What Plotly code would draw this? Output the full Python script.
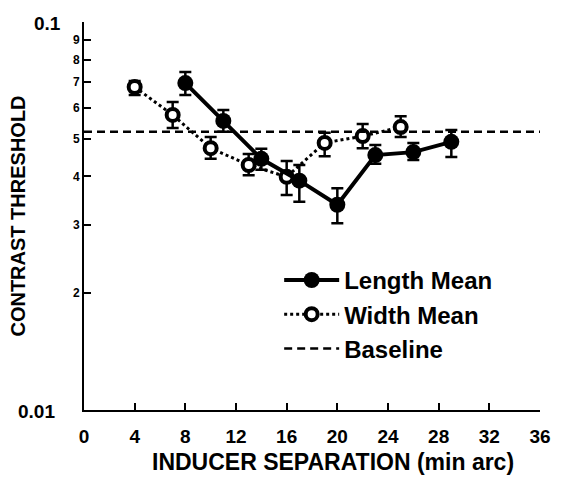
import math
import plotly.graph_objects as go

# Data (contrast threshold, log scale)
len_x = [8, 11, 14, 17, 20, 23, 26, 29]
len_y = [0.0696, 0.0556, 0.0444, 0.0390, 0.0338, 0.0454, 0.0462, 0.0491]
len_hi = [0.0743, 0.0593, 0.0471, 0.0428, 0.0373, 0.0482, 0.0488, 0.0527]
len_lo = [0.0648, 0.0521, 0.0416, 0.0344, 0.0303, 0.0431, 0.0441, 0.0449]

wid_x = [4, 7, 10, 13, 16, 19, 22, 25]
wid_y = [0.0680, 0.0576, 0.0473, 0.0428, 0.0399, 0.0488, 0.0508, 0.0536]
wid_hi = [0.0705, 0.0622, 0.0505, 0.0457, 0.0438, 0.0518, 0.0546, 0.0572]
wid_lo = [0.0648, 0.0533, 0.0444, 0.0403, 0.0358, 0.0451, 0.0473, 0.0505]

baseline = 0.0521
x_range = [0, 36]
x_ticks = [0, 4, 8, 12, 16, 20, 24, 28, 32, 36]
y_minor_vals = [0.02, 0.03, 0.04, 0.05, 0.06, 0.07, 0.08, 0.09]
y_minor_text = ["2", "3", "4", "5", "6", "7", "8", "9"]
y_major_text = ["0.01", "0.1"]
y_major_vals = [0.01, 0.1]

FONT = "Liberation Sans, Arial, Helvetica, sans-serif"

def err(y, hi, lo):
    return [h - v for v, h in zip(y, hi)], [v - l for v, l in zip(y, lo)]

fig = go.Figure()

wp, wm = err(wid_y, wid_hi, wid_lo)
fig.add_trace(go.Scatter(
    x=wid_x, y=wid_y, name="Width Mean", mode="lines+markers", legendrank=2,
    line=dict(color="black", width=3, dash="dot"),
    marker=dict(symbol="circle", size=12, color="white", line=dict(color="black", width=4)),
    error_y=dict(type="data", symmetric=False, array=wp, arrayminus=wm,
                 color="black", thickness=2.5, width=6),
))

lp, lm = err(len_y, len_hi, len_lo)
fig.add_trace(go.Scatter(
    x=len_x, y=len_y, name="Length Mean", mode="lines+markers", legendrank=1,
    line=dict(color="black", width=4),
    marker=dict(symbol="circle", size=16, color="black"),
    error_y=dict(type="data", symmetric=False, array=lp, arrayminus=lm,
                 color="black", thickness=2.5, width=6),
))

fig.add_trace(go.Scatter(
    x=x_range, y=[baseline, baseline], name="Baseline", mode="lines", legendrank=3,
    line=dict(color="black", width=2.5, dash="8px,5px"),
))

fig.update_layout(
    width=562, height=478,
    margin=dict(l=84, r=11, t=22, b=68),
    paper_bgcolor="white", plot_bgcolor="white",
    font=dict(family=FONT, color="black"),
    showlegend=True,
    legend=dict(
        x=0.428, y=0.392, xanchor="left", yanchor="top",
        font=dict(family=FONT, size=24, color="black", weight="bold"),
        bgcolor="rgba(0,0,0,0)", itemwidth=55,
    ),
    xaxis=dict(
        range=x_range, tickvals=x_ticks, ticks="inside", ticklen=7,
        tickwidth=2, tickcolor="black", showline=True, linecolor="black",
        linewidth=2, showgrid=False, zeroline=False, ticklabelstandoff=8,
        tickfont=dict(family=FONT, size=19, color="black", weight="bold"),
    ),
    yaxis=dict(
        type="log", range=[-2, -1],
        tickvals=y_major_vals + y_minor_vals,
        ticktext=["", ""] + y_minor_text,
        ticks="inside", ticklen=7, tickwidth=2, tickcolor="black",
        showline=True, linecolor="black", linewidth=2,
        showgrid=False, zeroline=False,
        tickfont=dict(family=FONT, size=12, color="black", weight="bold"),
        title=dict(text="CONTRAST THRESHOLD", standoff=42,
                   font=dict(family=FONT, size=20, color="black", weight="bold")),
    ),
)

# x-axis title (slightly right of centre, as in the original)
fig.add_annotation(
    x=0.545, xref="paper", xanchor="center",
    y=0, yref="paper", yanchor="middle", yshift=-52,
    text="INDUCER SEPARATION (min arc)", showarrow=False,
    font=dict(family=FONT, size=23, color="black", weight="bold"),
)

# large decade labels on the y axis
for txt, v, shift in zip(y_major_text, y_major_vals, [-27, -21]):
    fig.add_annotation(
        x=0, xref="paper", xanchor="right", xshift=shift,
        y=math.log10(v), yref="y", yanchor="middle", yshift=-1,
        text=txt, showarrow=False,
        font=dict(family=FONT, size=19, color="black", weight="bold"),
    )

fig.write_html("out.html")
